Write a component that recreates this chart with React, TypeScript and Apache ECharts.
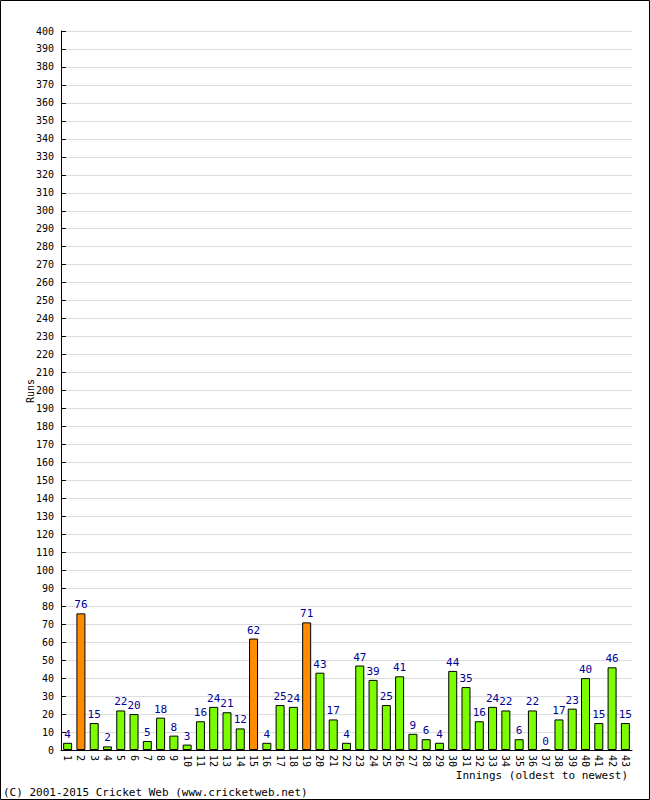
import React, { useEffect, useRef } from "react";
import * as echarts from "echarts";

const innings = Array.from({ length: 43 }, (_, i) => String(i + 1));
const runs = [4, 76, 15, 2, 22, 20, 5, 18, 8, 3, 16, 24, 21, 12, 62, 4, 25, 24, 71, 43, 17, 4, 47, 39, 25, 41, 9, 6, 4, 44, 35, 16, 24, 22, 6, 22, 0, 17, 23, 40, 15, 46, 15];
const fifties = [false, true, false, false, false, false, false, false, false, false, false, false, false, false, true, false, false, false, true, false, false, false, false, false, false, false, false, false, false, false, false, false, false, false, false, false, false, false, false, false, false, false, false];

const FONT = "DejaVu Sans Mono";

export default function App() {
  const ref = useRef<HTMLDivElement>(null);
  useEffect(() => {
    const chart = echarts.init(ref.current!, null, { renderer: "svg" });
    chart.setOption({
      animation: false,
      backgroundColor: "#ffffff",
      grid: { left: 61, right: 18, top: 31, bottom: 50, containLabel: false },
      xAxis: {
        type: "category",
        data: innings,
        axisLine: { lineStyle: { color: "#000", width: 1 } },
        axisTick: { inside: true, length: 3, lineStyle: { color: "#000" } },
        axisLabel: {
          rotate: -90,
          interval: 0,
          margin: 5,
          fontFamily: FONT,
          fontSize: 10,
          color: "#000",
        },
        splitLine: { show: false },
      },
      yAxis: {
        type: "value",
        min: 0,
        max: 400,
        interval: 10,
        axisLine: { show: true, lineStyle: { color: "#000", width: 1 } },
        axisTick: { show: true, inside: true, length: 5, lineStyle: { color: "#000" } },
        axisLabel: { fontFamily: FONT, fontSize: 10, color: "#000", margin: 7 },
        splitLine: { lineStyle: { color: "#dddddd", width: 1 } },
      },
      series: [
        {
          type: "bar",
          barWidth: 9,
          data: runs.map((v, i) => ({
            value: v,
            itemStyle: {
              color: fifties[i] ? "#ff8c00" : "#7cfc00",
              borderColor: "#000",
              borderWidth: 1,
            },
          })),
          label: {
            show: true,
            position: "top",
            distance: 3,
            fontFamily: FONT,
            fontSize: 11,
            color: "#000099",
          },
        },
      ],
      graphic: [
        {
          type: "rect",
          shape: { x: 0.5, y: 0.5, width: 649, height: 799 },
          style: { fill: "none", stroke: "#000", lineWidth: 1 },
          silent: true,
        },
        {
          type: "text",
          x: 628,
          y: 775,
          style: {
            text: "Innings (oldest to newest)",
            fontFamily: FONT,
            fontSize: 11,
            fill: "#000",
            align: "right",
            verticalAlign: "middle",
          },
        },
        {
          type: "text",
          x: 30,
          y: 391,
          rotation: Math.PI / 2,
          style: {
            text: "Runs",
            fontFamily: FONT,
            fontSize: 10,
            fill: "#000",
            align: "center",
            verticalAlign: "middle",
          },
        },
        {
          type: "text",
          x: 3,
          y: 792,
          style: {
            text: "(C) 2001-2015 Cricket Web (www.cricketweb.net)",
            fontFamily: FONT,
            fontSize: 11,
            fill: "#000",
            align: "left",
            verticalAlign: "middle",
          },
        },
      ],
    });
    return () => chart.dispose();
  }, []);
  return <div ref={ref} style={{ width: 650, height: 800, position: "absolute", left: 0, top: 0 }} />;
}
